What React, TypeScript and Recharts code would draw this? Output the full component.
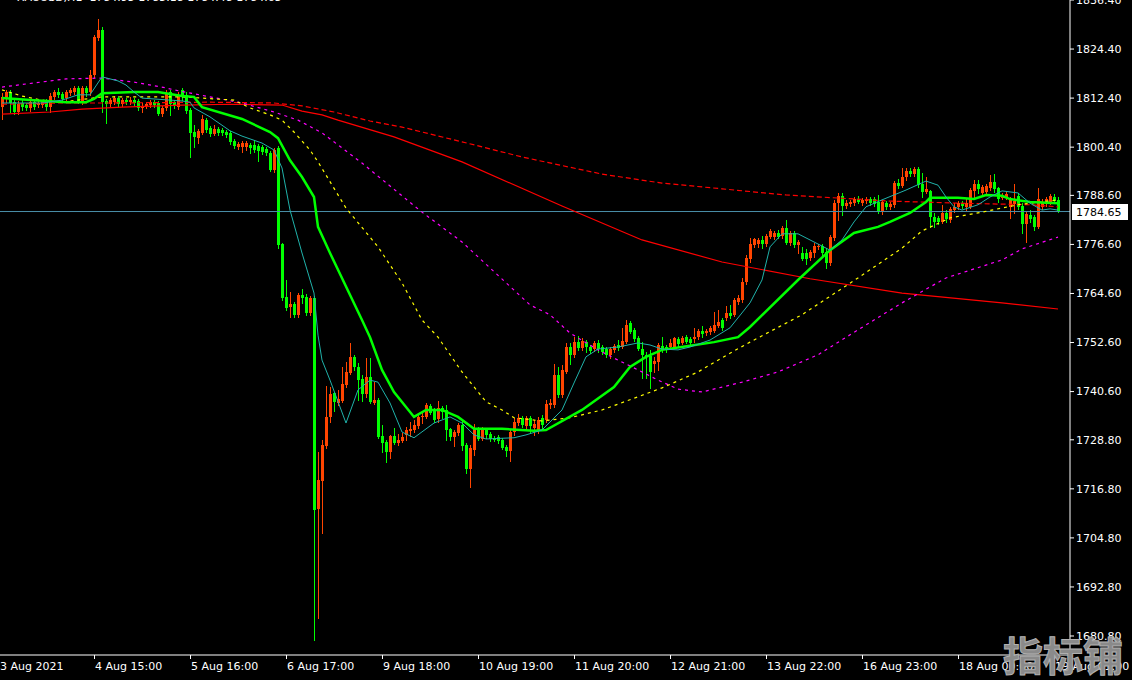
import { ComposedChart, Bar, Line, XAxis, YAxis, ReferenceLine } from "recharts";

const BULL = "#ff4500";
const BEAR = "#00ff00";
const FONT = "'DejaVu Sans', Verdana, sans-serif";

// H1 candles, 3 Aug 2021 .. 19 Aug 2021 (visible part)
const opens = [
  1810.2, 1812.4, 1813.9, 1811.4, 1809.0, 1811.2, 1810.7, 1810.0, 1811.4, 1810.7,
  1810.7, 1811.4, 1810.2, 1812.7, 1813.9, 1813.4, 1812.4, 1813.6, 1813.9, 1814.9,
  1811.4, 1814.9, 1813.9, 1818.0, 1827.1, 1829.1, 1811.7, 1810.9, 1811.4, 1812.4,
  1810.9, 1811.9, 1811.4, 1811.9, 1811.7, 1810.0, 1810.5, 1810.7, 1811.4, 1811.2,
  1808.5, 1810.0, 1813.9, 1811.4, 1810.2, 1814.4, 1813.2, 1809.5, 1804.1, 1802.6,
  1803.9, 1807.0, 1805.1, 1803.6, 1804.8, 1804.6, 1804.1, 1803.9, 1801.9, 1800.4,
  1800.4, 1800.4, 1800.9, 1800.9, 1800.7, 1800.4, 1799.9, 1799.0, 1794.8, 1800.2,
  1776.7, 1763.7, 1761.3, 1762.0, 1759.4, 1764.2, 1763.7, 1759.8, 1763.5, 1711.9,
  1718.7, 1727.3, 1734.4, 1740.3, 1737.8, 1738.3, 1742.2, 1745.2, 1749.1, 1746.6,
  1743.7, 1740.0, 1744.2, 1737.8, 1738.6, 1729.7, 1728.3, 1725.8, 1729.7, 1728.0,
  1728.5, 1730.0, 1731.0, 1731.2, 1732.2, 1734.4, 1734.4, 1737.1, 1736.1, 1733.9,
  1736.6, 1736.1, 1731.5, 1729.5, 1730.5, 1732.4, 1727.5, 1721.7, 1726.3, 1731.5,
  1729.0, 1731.2, 1730.2, 1729.3, 1729.5, 1728.8, 1727.0, 1726.1, 1730.7, 1732.9,
  1734.2, 1732.2, 1734.2, 1731.7, 1731.2, 1734.2, 1733.7, 1737.3, 1737.3, 1744.7,
  1739.8, 1745.4, 1751.5, 1749.6, 1752.7, 1751.3, 1752.7, 1751.5, 1751.0, 1752.5,
  1751.5, 1751.0, 1749.6, 1750.8, 1752.0, 1751.5, 1752.7, 1757.4, 1755.7, 1753.7,
  1751.0, 1749.6, 1749.3, 1747.4, 1747.8, 1751.8, 1751.5, 1751.5, 1751.5, 1753.5,
  1752.5, 1753.9, 1753.5, 1753.5, 1753.9, 1755.4, 1754.9, 1755.2, 1755.4, 1756.6,
  1758.1, 1758.6, 1759.8, 1759.4, 1762.5, 1763.0, 1767.4, 1773.0, 1776.5, 1776.7,
  1777.7, 1776.7, 1778.4, 1778.4, 1779.4, 1778.7, 1780.6, 1777.0, 1779.4, 1776.5,
  1774.5, 1774.5, 1773.3, 1774.5, 1776.0, 1776.2, 1774.8, 1772.1, 1778.2, 1786.7,
  1788.5, 1786.0, 1786.5, 1786.7, 1787.7, 1786.7, 1787.2, 1787.7, 1787.7, 1787.0,
  1784.5, 1786.7, 1785.8, 1786.3, 1791.6, 1790.9, 1793.1, 1794.6, 1793.8, 1795.1,
  1791.4, 1789.4, 1789.7, 1783.3, 1783.1, 1782.1, 1784.3, 1782.6, 1785.0, 1785.8,
  1786.7, 1785.8, 1785.8, 1789.7, 1791.4, 1789.2, 1789.4, 1790.4, 1791.9, 1790.4,
  1788.0, 1788.2, 1785.8, 1786.5, 1788.5, 1786.0, 1781.6, 1783.8, 1783.3, 1780.9,
  1785.8, 1786.5, 1787.0, 1788.2, 1787.5,
];

const highs = [
  1813.6, 1814.4, 1814.4, 1812.2, 1811.7, 1811.9, 1811.2, 1811.9, 1812.2, 1811.7,
  1811.9, 1812.2, 1813.6, 1814.4, 1814.9, 1813.9, 1814.4, 1814.9, 1815.4, 1815.4,
  1815.4, 1815.4, 1819.3, 1827.8, 1831.7, 1829.8, 1812.2, 1812.4, 1812.9, 1812.9,
  1812.4, 1812.4, 1812.7, 1812.4, 1812.2, 1811.2, 1811.4, 1811.9, 1811.9, 1811.7,
  1810.5, 1814.4, 1814.4, 1811.9, 1813.9, 1814.9, 1813.9, 1810.0, 1805.8, 1804.8,
  1808.3, 1807.5, 1805.6, 1805.8, 1805.3, 1805.1, 1804.6, 1804.3, 1802.4, 1801.7,
  1801.9, 1801.9, 1801.4, 1802.1, 1801.2, 1800.9, 1800.4, 1799.5, 1800.2, 1800.7,
  1777.0, 1767.9, 1765.0, 1762.5, 1764.7, 1765.7, 1764.5, 1764.0, 1764.0, 1725.8,
  1728.8, 1742.0, 1741.7, 1740.5, 1741.0, 1746.6, 1747.8, 1752.5, 1749.6, 1747.6,
  1744.7, 1748.8, 1748.8, 1742.9, 1739.0, 1732.4, 1728.8, 1730.0, 1731.7, 1730.2,
  1730.5, 1731.9, 1733.2, 1733.7, 1735.1, 1735.4, 1737.8, 1737.6, 1736.6, 1738.3,
  1737.1, 1737.3, 1731.7, 1731.2, 1732.9, 1733.7, 1728.0, 1727.5, 1732.7, 1731.9,
  1731.9, 1731.7, 1730.7, 1729.7, 1730.0, 1729.3, 1727.5, 1731.2, 1734.2, 1735.1,
  1734.6, 1734.6, 1734.6, 1733.7, 1734.4, 1734.9, 1738.6, 1738.8, 1747.4, 1746.6,
  1747.1, 1752.5, 1752.5, 1753.9, 1754.2, 1753.7, 1753.2, 1752.0, 1753.0, 1753.2,
  1752.0, 1751.5, 1751.5, 1752.2, 1753.2, 1756.2, 1758.1, 1757.9, 1756.2, 1754.2,
  1752.7, 1750.3, 1750.8, 1749.1, 1752.5, 1753.9, 1752.0, 1753.5, 1753.9, 1753.9,
  1754.2, 1754.4, 1753.9, 1756.2, 1755.9, 1756.6, 1755.9, 1756.6, 1760.1, 1760.6,
  1758.6, 1761.5, 1761.8, 1763.5, 1764.2, 1768.4, 1774.0, 1778.2, 1778.2, 1778.2,
  1778.7, 1779.2, 1780.4, 1779.9, 1780.1, 1781.1, 1782.6, 1779.9, 1779.9, 1777.7,
  1776.0, 1775.5, 1775.2, 1777.0, 1776.7, 1776.7, 1775.7, 1778.9, 1787.5, 1789.2,
  1789.2, 1787.5, 1787.5, 1788.2, 1788.5, 1788.0, 1788.2, 1788.2, 1788.2, 1788.7,
  1787.5, 1787.2, 1787.0, 1792.1, 1792.6, 1795.3, 1795.3, 1795.3, 1795.5, 1795.5,
  1794.1, 1793.1, 1789.9, 1784.3, 1783.6, 1786.3, 1785.0, 1785.8, 1786.7, 1787.2,
  1787.2, 1788.0, 1790.4, 1792.4, 1792.4, 1791.1, 1791.4, 1793.6, 1793.8, 1790.6,
  1789.2, 1789.4, 1788.2, 1791.4, 1789.2, 1786.7, 1784.5, 1785.0, 1783.8, 1790.4,
  1787.7, 1788.2, 1788.9, 1788.9, 1788.2,
];

const lows = [
  1807.3, 1811.4, 1809.0, 1808.5, 1808.5, 1809.5, 1809.5, 1809.2, 1809.7, 1810.2,
  1810.2, 1809.5, 1809.0, 1812.2, 1812.7, 1811.7, 1811.9, 1813.2, 1813.4, 1811.2,
  1810.9, 1812.9, 1813.2, 1817.6, 1826.6, 1809.0, 1806.3, 1810.5, 1810.9, 1810.5,
  1810.5, 1810.9, 1810.9, 1810.7, 1809.5, 1809.0, 1810.0, 1810.2, 1810.2, 1808.3,
  1808.0, 1809.5, 1808.3, 1810.0, 1809.7, 1811.9, 1808.7, 1798.0, 1800.4, 1801.4,
  1803.6, 1804.1, 1803.1, 1803.4, 1803.4, 1803.4, 1802.9, 1801.2, 1800.2, 1799.9,
  1799.2, 1799.7, 1799.0, 1799.2, 1797.0, 1798.7, 1798.5, 1794.6, 1794.3, 1775.7,
  1763.0, 1760.6, 1758.9, 1758.9, 1758.9, 1762.3, 1759.4, 1759.4, 1679.8, 1685.2,
  1706.0, 1726.8, 1733.2, 1735.9, 1737.3, 1738.1, 1741.7, 1744.9, 1745.9, 1738.6,
  1738.3, 1739.3, 1737.8, 1737.6, 1729.3, 1725.8, 1723.4, 1724.4, 1727.8, 1727.5,
  1728.3, 1728.8, 1729.7, 1730.7, 1731.7, 1732.9, 1734.2, 1735.1, 1733.2, 1733.2,
  1734.2, 1728.8, 1728.8, 1727.3, 1730.0, 1726.3, 1720.7, 1717.3, 1725.1, 1728.8,
  1728.8, 1729.3, 1728.5, 1728.5, 1728.0, 1726.6, 1724.9, 1723.6, 1730.0, 1732.4,
  1731.9, 1731.5, 1730.7, 1730.0, 1730.5, 1731.7, 1733.2, 1736.6, 1736.8, 1739.3,
  1739.3, 1745.2, 1747.4, 1749.1, 1750.8, 1750.8, 1750.3, 1750.0, 1750.5, 1750.3,
  1749.8, 1749.1, 1748.8, 1750.3, 1750.8, 1751.3, 1752.5, 1754.9, 1753.0, 1750.8,
  1743.9, 1743.9, 1741.5, 1745.4, 1745.9, 1750.3, 1750.3, 1751.3, 1751.3, 1751.8,
  1752.2, 1752.5, 1752.0, 1752.7, 1753.5, 1753.9, 1754.4, 1754.7, 1755.2, 1756.4,
  1755.7, 1758.1, 1758.6, 1759.1, 1762.0, 1762.5, 1766.9, 1772.3, 1776.0, 1776.0,
  1775.7, 1776.2, 1778.2, 1777.9, 1778.2, 1778.2, 1776.7, 1776.5, 1776.0, 1774.5,
  1772.8, 1771.8, 1772.8, 1773.5, 1775.5, 1774.0, 1770.8, 1771.6, 1777.7, 1782.6,
  1783.8, 1785.5, 1786.0, 1786.3, 1786.7, 1786.3, 1786.7, 1786.3, 1786.0, 1784.3,
  1784.0, 1785.3, 1785.3, 1785.8, 1790.4, 1790.6, 1792.4, 1793.3, 1793.3, 1790.6,
  1788.2, 1789.2, 1780.9, 1780.9, 1781.6, 1781.8, 1782.1, 1782.1, 1784.5, 1785.3,
  1785.5, 1785.0, 1785.5, 1788.2, 1789.2, 1788.7, 1788.9, 1789.9, 1789.4, 1787.0,
  1787.7, 1787.7, 1783.1, 1784.3, 1785.3, 1779.4, 1777.2, 1782.1, 1780.1, 1780.6,
  1785.3, 1786.0, 1786.5, 1786.7, 1784.5,
];

const closes = [
  1812.7, 1813.9, 1811.2, 1809.0, 1810.9, 1810.2, 1810.0, 1811.4, 1810.2, 1811.2,
  1811.4, 1810.2, 1812.9, 1813.9, 1813.2, 1812.2, 1813.9, 1814.4, 1814.9, 1811.4,
  1814.9, 1813.6, 1818.0, 1827.3, 1829.1, 1811.4, 1810.9, 1811.9, 1812.4, 1810.9,
  1811.9, 1811.4, 1811.9, 1811.2, 1810.0, 1810.5, 1810.9, 1811.4, 1810.7, 1808.5,
  1810.0, 1813.6, 1810.9, 1810.5, 1813.2, 1812.9, 1809.2, 1803.9, 1802.9, 1804.3,
  1807.3, 1804.6, 1803.6, 1804.8, 1803.9, 1803.9, 1803.4, 1801.7, 1800.7, 1801.2,
  1801.4, 1801.4, 1800.2, 1799.7, 1799.5, 1799.2, 1799.0, 1794.8, 1799.7, 1776.5,
  1763.5, 1761.1, 1762.0, 1759.4, 1764.2, 1763.5, 1759.8, 1763.5, 1711.6, 1719.0,
  1727.5, 1734.4, 1740.0, 1738.1, 1738.8, 1742.5, 1745.4, 1749.1, 1746.6, 1743.4,
  1740.0, 1744.2, 1738.1, 1738.6, 1729.5, 1728.0, 1725.8, 1729.7, 1728.0, 1728.8,
  1729.5, 1731.2, 1731.5, 1732.4, 1734.4, 1734.6, 1737.3, 1735.4, 1733.7, 1736.6,
  1735.6, 1731.2, 1729.5, 1730.7, 1732.4, 1727.3, 1721.7, 1726.8, 1731.7, 1729.0,
  1731.2, 1730.0, 1729.0, 1728.8, 1728.5, 1726.8, 1726.1, 1730.7, 1733.2, 1734.2,
  1732.4, 1734.2, 1732.2, 1732.7, 1733.7, 1732.4, 1737.6, 1737.8, 1744.7, 1739.8,
  1745.9, 1751.5, 1749.6, 1752.7, 1751.3, 1753.0, 1751.5, 1750.5, 1752.5, 1751.0,
  1750.3, 1749.6, 1751.0, 1751.8, 1751.3, 1753.0, 1756.9, 1755.2, 1753.5, 1751.0,
  1749.6, 1749.1, 1745.4, 1748.1, 1752.0, 1750.8, 1750.8, 1752.5, 1753.7, 1752.2,
  1753.7, 1752.7, 1752.5, 1753.9, 1755.4, 1754.7, 1755.4, 1756.2, 1756.9, 1757.6,
  1756.2, 1759.8, 1759.1, 1763.0, 1763.5, 1767.4, 1773.3, 1776.7, 1777.9, 1777.7,
  1776.7, 1778.7, 1779.9, 1779.4, 1778.4, 1780.6, 1777.0, 1779.4, 1776.5, 1777.2,
  1773.0, 1773.0, 1774.8, 1776.2, 1776.2, 1774.5, 1772.1, 1778.4, 1786.7, 1788.5,
  1786.0, 1786.7, 1787.0, 1787.7, 1787.0, 1787.5, 1787.7, 1786.7, 1786.5, 1784.5,
  1787.0, 1785.8, 1786.5, 1791.6, 1790.9, 1793.1, 1794.6, 1793.8, 1795.1, 1791.1,
  1789.4, 1790.2, 1783.3, 1782.1, 1782.1, 1784.3, 1782.8, 1785.3, 1785.8, 1786.7,
  1786.0, 1786.7, 1789.9, 1791.4, 1790.2, 1790.6, 1790.9, 1791.9, 1790.2, 1787.7,
  1788.5, 1788.9, 1787.5, 1787.2, 1785.8, 1781.6, 1784.0, 1782.8, 1780.9, 1787.7,
  1786.7, 1787.7, 1788.5, 1787.2, 1784.65,
];

// moving averages, read as [bar index, price]
const maFast: [number, number][] = [
  [0, 1811.2], [10, 1811.2], [15, 1811.9], [19, 1813.2], [22, 1813.2], [25, 1817.6], [29, 1816.6],
  [31, 1815.6], [33, 1813.9], [35, 1812.4], [45, 1811.7], [47, 1811.4], [48, 1810.0], [52, 1807.8],
  [57, 1804.4], [60, 1803.1], [65, 1801.4], [68, 1799.7], [70, 1795.3], [72, 1785.0], [75, 1774.5],
  [78, 1764.7], [79, 1754.4], [80, 1748.3], [82, 1743.4], [86, 1732.9], [89, 1741.0], [92, 1743.4],
  [94, 1742.9], [97, 1737.8], [100, 1730.7], [103, 1729.3], [108, 1732.9], [112, 1734.4],
  [115, 1732.9], [118, 1730.0], [121, 1729.0], [128, 1729.3], [131, 1730.0], [135, 1731.2],
  [140, 1736.1], [143, 1742.7], [146, 1749.1], [149, 1751.0], [154, 1751.5], [159, 1752.5],
  [162, 1752.0], [165, 1751.0], [169, 1750.8], [172, 1751.5], [177, 1753.2], [182, 1756.2],
  [187, 1762.3], [190, 1767.9], [192, 1776.0], [195, 1779.2], [199, 1779.2], [202, 1777.7],
  [205, 1776.2], [207, 1775.2], [210, 1777.7], [213, 1782.1], [216, 1785.8], [220, 1787.5],
  [226, 1789.9], [231, 1792.1], [234, 1791.1], [236, 1788.2], [238, 1785.8], [240, 1785.0],
  [244, 1786.3], [247, 1788.2], [250, 1789.7], [254, 1789.2], [257, 1786.7], [260, 1785.0],
  [262, 1785.3], [264, 1785.0],
];

const maMid: [number, number][] = [
  [0, 1812.4], [8, 1811.9], [16, 1811.4], [21, 1811.4], [23, 1812.2], [25, 1813.6], [33, 1813.9],
  [39, 1813.9], [42, 1813.4], [45, 1812.9], [48, 1812.7], [50, 1810.2], [60, 1807.3], [67, 1804.1],
  [69, 1802.6], [72, 1797.2], [75, 1793.1], [78, 1788.2], [79, 1780.9], [82, 1774.5], [90, 1758.1],
  [92, 1753.9], [95, 1745.9], [98, 1740.5], [103, 1734.4], [106, 1736.1], [110, 1736.1],
  [114, 1734.4], [118, 1731.5], [125, 1731.5], [133, 1731.0], [136, 1731.2], [145, 1736.1],
  [153, 1741.7], [157, 1746.6], [161, 1749.1], [165, 1750.8], [172, 1751.8], [178, 1752.7],
  [184, 1753.9], [187, 1756.4], [199, 1767.9], [207, 1775.2], [213, 1779.4], [219, 1780.9],
  [222, 1782.1], [227, 1784.3], [231, 1787.0], [232, 1788.0], [239, 1788.0], [243, 1787.7],
  [246, 1788.7], [250, 1788.5], [252, 1787.7], [257, 1787.0], [264, 1786.7],
];

const maYellow: [number, number][] = [
  [0, 1814.4], [5, 1812.9], [10, 1811.9], [15, 1811.4], [25, 1812.7], [45, 1812.7], [58, 1811.9],
  [62, 1810.0], [67, 1808.3], [70, 1807.0], [73, 1804.1], [77, 1799.7], [79, 1796.8], [86, 1785.5],
  [94, 1776.0], [100, 1767.2], [105, 1758.1], [109, 1753.9], [115, 1745.4], [121, 1738.1],
  [125, 1736.1], [128, 1734.2], [135, 1733.4], [142, 1734.2], [150, 1736.1], [157, 1738.6],
  [165, 1741.5], [174, 1745.4], [182, 1750.0], [187, 1752.7], [200, 1759.4], [214, 1768.4],
  [225, 1775.7], [230, 1779.9], [237, 1783.1], [245, 1784.5], [254, 1786.3], [264, 1787.5],
];

const maMagenta: [number, number][] = [
  [0, 1815.1], [8, 1816.1], [16, 1817.1], [25, 1817.3], [33, 1816.3], [41, 1814.9], [43, 1814.4],
  [52, 1812.7], [60, 1811.2], [68, 1809.0], [74, 1807.0], [80, 1803.9], [90, 1796.5], [105, 1784.5],
  [115, 1777.2], [132, 1761.8], [137, 1759.4], [142, 1754.9], [149, 1750.8], [154, 1748.3],
  [159, 1745.9], [164, 1743.4], [169, 1741.2], [175, 1740.5], [180, 1741.7], [185, 1742.9],
  [194, 1745.4], [204, 1749.6], [214, 1755.7], [225, 1762.3], [236, 1768.4], [250, 1772.8],
  [255, 1775.5], [264, 1778.4],
];

const maRedDash: [number, number][] = [
  [0, 1810.9], [14, 1811.2], [27, 1811.2], [52, 1811.4], [68, 1811.2], [75, 1810.5], [83, 1809.0],
  [92, 1806.8], [100, 1805.3], [115, 1801.7], [130, 1798.0], [150, 1793.8], [165, 1791.6],
  [180, 1790.2], [196, 1788.7], [222, 1787.2], [239, 1786.7], [257, 1786.3], [264, 1785.8],
];

const maRedSolid: [number, number][] = [
  [0, 1808.5], [12, 1809.0], [20, 1809.7], [30, 1810.2], [45, 1810.7], [57, 1810.9], [70, 1810.7],
  [75, 1809.2], [80, 1808.3], [84, 1807.0], [98, 1802.9], [115, 1796.8], [140, 1786.0],
  [160, 1777.7], [180, 1772.3], [202, 1768.2], [225, 1764.7], [250, 1762.3], [264, 1760.8],
];

const xTickIdx = [-0.5, 23, 47, 71, 95, 119, 143, 167, 191, 215, 239, 263];
const xTickLabels = [
  "3 Aug 2021", "4 Aug 15:00", "5 Aug 16:00", "6 Aug 17:00", "9 Aug 18:00", "10 Aug 19:00",
  "11 Aug 20:00", "12 Aug 21:00", "13 Aug 22:00", "16 Aug 23:00", "18 Aug 00:00", "19 Aug 01:00",
];
const yTicks = [
  1836.4, 1824.4, 1812.4, 1800.4, 1788.6, 1776.6, 1764.6, 1752.6, 1740.6, 1728.8, 1716.8,
  1704.8, 1692.8, 1680.8,
];
const lastPrice = 1784.65;

const rows: Record<string, any>[] = opens.map((o, i) => ({
  i,
  o,
  h: highs[i],
  l: lows[i],
  c: closes[i],
  range: [lows[i], highs[i]],
}));
const addSeries = (key: string, pts: [number, number][]) => {
  pts.forEach(([idx, v]) => {
    rows[idx][key] = v;
  });
};
addSeries("fast", maFast);
addSeries("mid", maMid);
addSeries("yellow", maYellow);
addSeries("magenta", maMagenta);
addSeries("redDash", maRedDash);
addSeries("redSolid", maRedSolid);

function Candle(props: any) {
  const { x, y, width, height, payload } = props;
  if (!payload || height == null) return null;
  const { o, h, l, c } = payload;
  const cx = Math.round(x + width / 2);
  const k = h > l ? height / (h - l) : 0;
  const py = (p: number) => y + (h - p) * k;
  const color = c > o ? BULL : BEAR;
  const top = Math.round(py(Math.max(o, c)));
  const bot = Math.round(py(Math.min(o, c)));
  return (
    <g shapeRendering="crispEdges">
      <line x1={cx + 0.5} x2={cx + 0.5} y1={Math.round(y)} y2={Math.round(y + height) + 1} stroke={color} />
      <rect x={cx - 1} y={top} width={3} height={Math.max(1, bot - top)} fill={color} />
    </g>
  );
}

function XTick({ x, y, payload }: any) {
  const k = xTickIdx.indexOf(payload.value);
  return (
    <g>
      {k > 0 && <line x1={x + 0.5} x2={x + 0.5} y1={y} y2={y + 4} stroke="#fff" shapeRendering="crispEdges" />}
      <text x={k > 0 ? x + 1 : 0} y={y + 15} fill="#fff" fontSize={11} fontFamily={FONT}>
        {xTickLabels[k]}
      </text>
    </g>
  );
}

function PriceTag(props: any) {
  const vb = props.viewBox;
  if (!vb) return null;
  const y = Math.round(vb.y);
  return (
    <g>
      <rect x={1072} y={y - 8} width={56} height={16} fill="#fff" />
      <text x={1076} y={y + 4} fill="#000" fontSize={11} fontFamily={FONT}>
        {lastPrice.toFixed(2)}
      </text>
    </g>
  );
}

export default function App() {
  return (
    <div style={{ position: "absolute", left: 0, top: 0, width: 1132, height: 680, background: "#000", overflow: "hidden" }}>
      <ComposedChart width={1132} height={680} data={rows} margin={{ top: 0, right: 0, bottom: 0, left: 0 }}>
        <XAxis
          type="number"
          dataKey="i"
          domain={[-0.5, 267]}
          allowDataOverflow
          ticks={xTickIdx}
          interval={0}
          tick={<XTick />}
          tickLine={false}
          tickSize={0}
          tickMargin={0}
          height={25}
          axisLine={{ stroke: "#fff" }}
        />
        <YAxis
          orientation="right"
          width={62}
          domain={[1676.15, 1836.4]}
          allowDataOverflow
          ticks={yTicks}
          interval={0}
          tickSize={4}
          tickMargin={2}
          tickFormatter={(v: number) => v.toFixed(2)}
          tick={{ fill: "#fff", fontSize: 11, fontFamily: FONT }}
          tickLine={{ stroke: "#fff" }}
          axisLine={{ stroke: "#fff" }}
        />
        <ReferenceLine y={lastPrice} stroke="#4a8fa8" strokeWidth={1} label={(p: any) => <PriceTag {...p} />} />
        <Bar dataKey="range" barSize={3} shape={<Candle />} isAnimationActive={false} />
        <Line dataKey="redSolid" stroke="#ff0000" strokeWidth={1.2} dot={false} activeDot={false} connectNulls isAnimationActive={false} />
        <Line dataKey="redDash" stroke="#ff0000" strokeWidth={1.2} strokeDasharray="5 3" dot={false} activeDot={false} connectNulls isAnimationActive={false} />
        <Line dataKey="magenta" stroke="#ff00ff" strokeWidth={1.2} strokeDasharray="3 4" dot={false} activeDot={false} connectNulls isAnimationActive={false} />
        <Line dataKey="yellow" stroke="#ffff00" strokeWidth={1.2} strokeDasharray="3 4" dot={false} activeDot={false} connectNulls isAnimationActive={false} />
        <Line dataKey="mid" stroke="#00ff00" strokeWidth={2.5} dot={false} activeDot={false} connectNulls isAnimationActive={false} />
        <Line dataKey="fast" stroke="#20b2aa" strokeWidth={1} dot={false} activeDot={false} connectNulls isAnimationActive={false} />
      </ComposedChart>
      <div
        style={{
          position: "absolute", left: 17, top: -9, color: "#fff", fontSize: 11, lineHeight: "13px",
          fontFamily: FONT, whiteSpace: "pre",
        }}
      >
        XAUUSD,H1  1784.95 1785.18 1784.48 1784.65
      </div>
      <div
        style={{
          position: "absolute", left: 1003, top: 630, color: "#8a8a8a", fontSize: 40, fontWeight: 700,
          lineHeight: "48px", fontFamily: "'Noto Sans CJK SC', sans-serif", WebkitTextStroke: "1px #b0b0b0",
        }}
      >
        指标铺
      </div>
    </div>
  );
}
